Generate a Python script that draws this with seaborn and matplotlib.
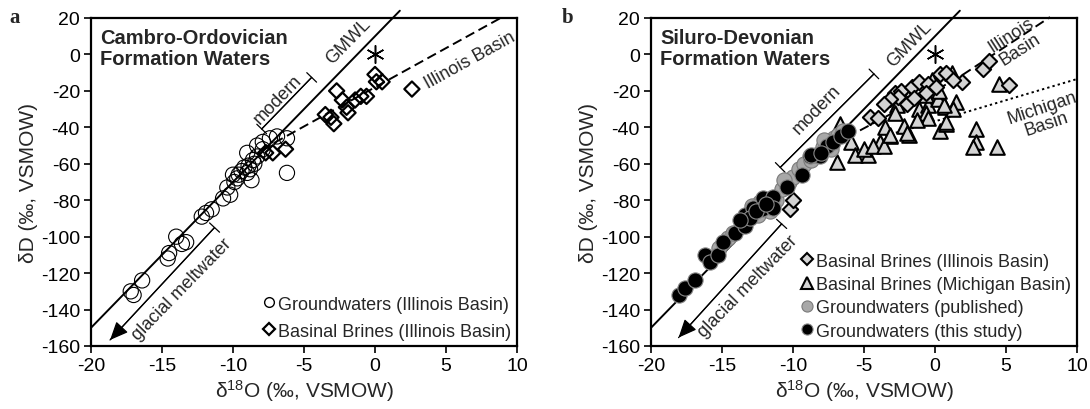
import numpy as np
import pandas as pd
import matplotlib
matplotlib.use("Agg")
import matplotlib.pyplot as plt
import seaborn as sns
from matplotlib.lines import Line2D

# ---------------------------------------------------------------- data
# Panel a: Cambro-Ordovician formation waters
gw_a_o18 = [-17.0, -17.2, -16.4, -14.6, -14.5, -14.0, -13.6, -13.3, -12.2, -11.9,
            -11.5, -10.7, -10.2, -10.4, -9.9, -9.7, -9.6, -9.4, -8.8, -8.7,
            -9.0, -8.3, -8.5, -8.9, -8.3, -7.9, -7.4, -6.9, -6.2, -6.2,
            -7.9, -8.6, -9.2, -10.0, -9.0]
gw_a_d = [-132, -130, -124, -112, -109, -100, -104, -103, -89, -87,
          -85, -79, -77, -73, -70, -68, -66, -64, -63, -69,
          -54, -56, -60, -61, -50, -48, -46, -45, -46, -65,
          -52, -58, -62, -66, -65]

br_a_o18 = [-7.7, -7.2, -6.3, -3.5, -3.1, -2.9, -2.7, -2.3, -2.0, -1.9,
            -1.4, -1.0, -0.6, 0.0, 0.1, 0.5, 2.6]
br_a_d = [-54, -54, -52, -33, -34.5, -38, -20, -25, -29, -32,
          -25, -23, -23, -11, -15, -15, -19]

# Panel b: Siluro-Devonian formation waters
gw_new_o18 = [-18.0, -17.6, -16.9, -16.2, -15.85, -15.3, -14.9, -14.1, -13.4, -13.4,
              -12.8, -12.1, -12.2, -11.4, -11.4, -10.4, -9.4, -8.8, -8.1, -7.6,
              -8.7, -8.0, -7.2, -6.6, -6.1, -13.0, -12.6, -11.9, -13.7]
gw_new_d = [-132, -128, -124, -110, -114, -110, -103, -98, -94, -88,
            -84, -79, -85, -78, -84, -73, -66, -56, -56, -50,
            -55, -54, -48, -45, -42, -90, -86, -82, -91]

gw_pub_o18 = [-14.6, -14.2, -13.6, -13.1, -12.5, -12.0, -11.2, -10.8, -10.3, -10.0,
              -9.6, -9.2, -8.7, -8.4, -7.9, -7.5, -7.1, -6.8, -6.5, -12.3,
              -11.6, -10.6, -7.3, -7.8, -15.2, -12.9]
gw_pub_d = [-101, -98, -93, -89, -88, -83, -80, -74, -70, -67,
            -63, -60, -58, -55, -51, -48, -46, -44, -42, -81,
            -86, -69, -52, -47, -106, -83]

br_il_o18 = [-10.2, -10.0, -4.6, -4.0, -2.8, -2.4, -1.6, -1.1, -0.5, 0.35,
             0.8, 1.9, 1.3, -2.6, -3.2, -0.6, 3.4, 3.8, 5.2, -2.0,
             -1.5, 0.1, -3.6]
br_il_d = [-85, -80, -34.5, -35, -21, -20, -18, -15, -16, -11,
           -10, -15, -14, -23.5, -24.5, -21, -8, -3.5, -17, -27,
           -24, -18, -27]

br_mi_o18 = [-6.7, -5.9, -6.9, -5.6, -4.7, -3.9, -3.2, -5.0, -4.35, -3.6,
             -3.5, -3.2, -2.2, -1.8, -2.0, -1.1, -0.5, -0.6, 0.2, 0.7,
             1.2, 1.5, 1.3, 0.35, 0.8, 0.8, -2.7, -1.9, -0.6, 2.9,
             2.9, 2.7, 4.35, 4.5, 0.6, -2.8, -0.2, -0.5, 0.3, -1.3]
br_mi_d = [-38, -48, -59, -55, -55, -48, -45, -52, -50, -50,
           -40, -44, -39, -44, -43, -30, -28, -22, -24.5, -29,
           -10, -26, -30, -42, -38, -37, -28, -23.5, -32, -41,
           -48, -51, -51, -16, -28, -32, -14, -35, -20, -36]

# Mixing trends
il_trend_a_o18 = [-8.0, 8.8]
il_trend_a_d = [-52.4, 19.8]
il_trend_b_o18 = [-8.0, -5.5, 1.5, 8.1]
il_trend_b_d = [-53.0, -42.6, -13.5, 20.5]
mi_trend_o18 = [-3.5, -1.8, 10.0]
mi_trend_d = [-44.5, -40.9, -13.5]

VSMOW = (0.0, 0.0)
GMWL_SLOPE, GMWL_INTERCEPT = 8.0, 10.0

legend_a = ["Groundwaters (Illinois Basin)", "Basinal Brines (Illinois Basin)"]
legend_b = ["Basinal Brines (Illinois Basin)", "Basinal Brines (Michigan Basin)",
            "Groundwaters (published)", "Groundwaters (this study)"]

# ---------------------------------------------------------------- style
sns.set_theme(style="ticks")
plt.rcParams["font.family"] = ["Liberation Sans", "DejaVu Sans"]
plt.rcParams["mathtext.fontset"] = "custom"
plt.rcParams["mathtext.rm"] = "Liberation Sans"
plt.rcParams["mathtext.it"] = "Liberation Sans:italic"
plt.rcParams["axes.unicode_minus"] = False

FS_TICK = 14
FS_LEG = 13

fig = plt.figure(figsize=(10.9, 4.1), dpi=100)
ax_a = fig.add_axes([91 / 1090, 63 / 410, 426 / 1090, 328 / 410])
ax_b = fig.add_axes([651 / 1090, 63 / 410, 426 / 1090, 328 / 410])

LIGHT = "#d4d4d4"
PUB = "#a8a8a8"


def frame(ax):
    ax.set_xlim(-20, 10)
    ax.set_ylim(-160, 20)
    ax.set_xticks(np.arange(-20, 11, 5))
    ax.set_yticks(np.arange(-160, 21, 20))
    ax.tick_params(direction="out", length=5, width=1.2, labelsize=FS_TICK,
                   colors="black", pad=3)
    for s in ax.spines.values():
        s.set_visible(True)
        s.set_linewidth(1.6)
        s.set_color("black")
    ax.set_xlabel(r"δ$^{\mathrm{18}}$O (‰, VSMOW)", fontsize=FS_TICK + 1, labelpad=2)
    ax.set_ylabel("δD (‰, VSMOW)", fontsize=FS_TICK + 1, labelpad=2)
    ax.set_facecolor("white")


def angle(ax, slope):
    p0 = ax.transData.transform((0, 0))
    p1 = ax.transData.transform((1, slope))
    return np.degrees(np.arctan2(p1[1] - p0[1], p1[0] - p0[0]))


def gmwl(ax, x_end):
    xs = np.array([-20.0, x_end])
    ax.plot(xs, GMWL_SLOPE * xs + GMWL_INTERCEPT, color="black", lw=1.4,
            clip_on=False, zorder=2)


def bracket(ax, p0, p1, arrow=False):
    ax.annotate("", xy=p1, xytext=p0,
                arrowprops=dict(arrowstyle="]-,widthA=0.35,lengthA=0", lw=0.9,
                                color="black", shrinkA=0, shrinkB=0,
                                mutation_scale=14))
    if arrow:
        ax.annotate("", xy=p1, xytext=p0,
                    arrowprops=dict(arrowstyle="-|>,head_length=0.8,head_width=0.35",
                                    lw=0.9, color="black", shrinkA=0, shrinkB=0,
                                    mutation_scale=14))
    else:
        ax.annotate("", xy=p0, xytext=p1,
                    arrowprops=dict(arrowstyle="]-,widthA=0.35,lengthA=0", lw=0.9,
                                    color="black", shrinkA=0, shrinkB=0,
                                    mutation_scale=14))


for ax in (ax_a, ax_b):
    frame(ax)

# ---------------------------------------------------------------- panel a
df_gw_a = pd.DataFrame({"o18": gw_a_o18, "d": gw_a_d})
df_br_a = pd.DataFrame({"o18": br_a_o18, "d": br_a_d})

gmwl(ax_a, 1.75)
ax_a.plot(il_trend_a_o18, il_trend_a_d, color="black", lw=1.4, ls=(0, (5, 2.5)),
          clip_on=False, zorder=2)
sns.scatterplot(data=df_gw_a, x="o18", y="d", ax=ax_a, marker="o", s=120,
                facecolor="none", edgecolor="black", linewidth=0.8, zorder=3)
sns.scatterplot(data=df_br_a, x="o18", y="d", ax=ax_a, marker="D", s=60,
                facecolor="none", edgecolor="black", linewidth=1.6, zorder=4)
ax_a.plot(*VSMOW, marker=(6, 2, 0), ms=13, mew=1.1, color="black", zorder=5)

ax_a.text(0.022, 0.97, "Cambro-Ordovician\nFormation Waters", transform=ax_a.transAxes,
          ha="left", va="top", fontsize=14.5, fontweight="bold", linespacing=1.15)

g_ang = angle(ax_a, GMWL_SLOPE)
ax_a.text(-1.9, 7.5, "GMWL", rotation=g_ang, rotation_mode="anchor",
          ha="center", va="center", fontsize=13)
ax_a.text(6.7, -3.0, "Illinois Basin", rotation=angle(ax_a, 4.3), rotation_mode="anchor",
          ha="center", va="center", fontsize=13)
bracket(ax_a, (-7.98, -40.9), (-4.46, -12.6))
ax_a.text(-6.85, -24.5, "modern", rotation=g_ang, rotation_mode="anchor",
          ha="center", va="center", fontsize=13)
bracket(ax_a, (-11.3, -95.0), (-18.66, -156.7), arrow=True)
ax_a.text(-13.6, -128.5, "glacial meltwater", rotation=g_ang, rotation_mode="anchor",
          ha="center", va="center", fontsize=13)

h_a = [Line2D([], [], ls="none", marker="o", ms=7, mfc="white", mec="black", mew=1.0),
       Line2D([], [], ls="none", marker="D", ms=6, mfc="white", mec="black", mew=1.6)]
ax_a.legend(h_a, legend_a, loc="lower right", frameon=False, fontsize=FS_LEG,
            handlelength=0.7, handletextpad=0.15, labelspacing=0.55,
            borderaxespad=0.15, borderpad=0.2)

# ---------------------------------------------------------------- panel b
df_new = pd.DataFrame({"o18": gw_new_o18, "d": gw_new_d})
df_pub = pd.DataFrame({"o18": gw_pub_o18, "d": gw_pub_d})
df_il = pd.DataFrame({"o18": br_il_o18, "d": br_il_d})
df_mi = pd.DataFrame({"o18": br_mi_o18, "d": br_mi_d})

gmwl(ax_b, 1.75)
ax_b.plot(il_trend_b_o18, il_trend_b_d, color="black", lw=1.4, ls=(0, (5, 2.5)),
          clip_on=False, zorder=2)
ax_b.plot(mi_trend_o18, mi_trend_d, color="black", lw=1.4, ls=(0, (1.2, 1.6)),
          zorder=2)
sns.scatterplot(data=df_mi, x="o18", y="d", ax=ax_b, marker="^", s=110,
                color=LIGHT, edgecolor="black", linewidth=1.5, zorder=3)
sns.scatterplot(data=df_il, x="o18", y="d", ax=ax_b, marker="D", s=60,
                color=LIGHT, edgecolor="black", linewidth=1.5, zorder=4)
sns.scatterplot(data=df_pub, x="o18", y="d", ax=ax_b, marker="o", s=120,
                color=PUB, edgecolor="#7a7a7a", linewidth=0.8, zorder=5)
sns.scatterplot(data=df_new, x="o18", y="d", ax=ax_b, marker="o", s=120,
                color="black", edgecolor="#8a8a8a", linewidth=0.8, zorder=6)
ax_b.plot(*VSMOW, marker=(6, 2, 0), ms=13, mew=1.1, color="black", zorder=7)

ax_b.text(0.022, 0.97, "Siluro-Devonian\nFormation Waters", transform=ax_b.transAxes,
          ha="left", va="top", fontsize=14.5, fontweight="bold", linespacing=1.15)
ax_b.text(-1.8, 6.0, "GMWL", rotation=g_ang, rotation_mode="anchor",
          ha="center", va="center", fontsize=13)
ax_b.text(5.7, 7.0, "Illinois\nBasin", rotation=angle(ax_b, 5.0), rotation_mode="anchor",
          ha="center", va="center", fontsize=13, linespacing=0.95)
ax_b.text(7.7, -33.5, "Michigan\nBasin", rotation=angle(ax_b, 2.6), rotation_mode="anchor",
          ha="center", va="center", fontsize=13, linespacing=0.95)
bracket(ax_b, (-10.9, -62.0), (-4.3, -10.7))
ax_b.text(-8.3, -30.0, "modern", rotation=g_ang, rotation_mode="anchor",
          ha="center", va="center", fontsize=13)
bracket(ax_b, (-10.8, -93.0), (-18.06, -155.4), arrow=True)
ax_b.text(-13.2, -127.0, "glacial meltwater", rotation=g_ang, rotation_mode="anchor",
          ha="center", va="center", fontsize=13)

h_b = [Line2D([], [], ls="none", marker="D", ms=6, mfc=LIGHT, mec="black", mew=1.5),
       Line2D([], [], ls="none", marker="^", ms=8, mfc=LIGHT, mec="black", mew=1.5),
       Line2D([], [], ls="none", marker="o", ms=8, mfc=PUB, mec="#7a7a7a", mew=0.8),
       Line2D([], [], ls="none", marker="o", ms=8, mfc="black", mec="#8a8a8a", mew=0.8)]
ax_b.legend(h_b, legend_b, loc="lower right", frameon=False, fontsize=FS_LEG,
            handlelength=0.7, handletextpad=0.15, labelspacing=0.35,
            borderaxespad=0.15, borderpad=0.2)

# panel letters
fig.text(15 / 1090, 1 - 18 / 410, "a", fontsize=15, fontweight="bold",
         family="Liberation Serif", ha="center", va="center")
fig.text(568 / 1090, 1 - 18 / 410, "b", fontsize=15, fontweight="bold",
         family="Liberation Serif", ha="center", va="center")

fig.savefig("out.png", dpi=100, facecolor="white")
